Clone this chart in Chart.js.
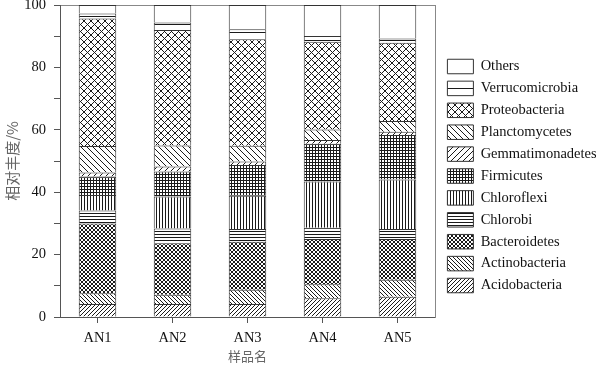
<!DOCTYPE html>
<html>
<head>
<meta charset="utf-8">
<script src="https://cdn.jsdelivr.net/npm/chart.js@4.4.1/dist/chart.umd.min.js"></script>
<style>
  html, body { margin: 0; padding: 0; background: #fff; }
  canvas { display: block; }
</style>
</head>
<body>
<canvas id="chart" width="596" height="365"></canvas>
<script>
// ── Data (relative abundance, %) ───────────────────────────────────────────
const samples = ['AN1', 'AN2', 'AN3', 'AN4', 'AN5'];

const acidobacteria    = [4.2, 4.2, 4.2, 6.0, 6.5];
const actinobacteria   = [3.4, 2.9, 4.5, 4.5, 5.4];
const bacteroidetes    = [22.4, 16.5, 15.4, 14.5, 13.1];
const chlorobi         = [4.1, 4.8, 4.1, 3.6, 3.2];
const chloroflexi      = [5.0, 10.2, 10.7, 14.8, 15.9];
const firmicutes       = [5.9, 8.0, 9.8, 12.1, 14.2];
const gemmatimonadetes = [1.3, 1.6, 1.1, 1.2, 1.1];
const planctomycetes   = [8.5, 6.8, 5.1, 3.4, 3.4];
const proteobacteria   = [40.9, 37.0, 34.1, 28.1, 25.1];
const verrucomicrobia  = [1.6, 2.4, 3.2, 1.9, 1.4];
const others           = [2.7, 5.6, 7.8, 9.9, 10.7];

const yTicks = [0, 20, 40, 60, 80, 100];

// ── Hatch patterns (pixel tiles, so the lines stay crisp) ─────────────────
const _INK = '#1a1a1a';

function _tile(size, draw) {
  const c = document.createElement('canvas');
  c.width = c.height = size;
  const g = c.getContext('2d');
  g.fillStyle = '#fff';
  g.fillRect(0, 0, size, size);
  g.fillStyle = _INK;
  draw(g, size);
  return g.createPattern(c, 'repeat');
}

const _h    = (g, s) => g.fillRect(0, 0, s, 1);
const _v    = (g, s) => g.fillRect(0, 0, 1, s);
const _fwd  = (g, s) => { for (let i = 0; i < s; i++) g.fillRect(i, s - 1 - i, 1, 1); };
const _back = (g, s) => { for (let i = 0; i < s; i++) g.fillRect(i, i, 1, 1); };

const PAT = {
  blank:     '#fff',
  hWide:     _tile(8, _h),
  cross:     _tile(7, (g, s) => { _fwd(g, s); _back(g, s); }),
  backWide:  _tile(6, _back),
  fwdWide:   _tile(6, _fwd),
  grid:      _tile(3, (g, s) => { _h(g, s); _v(g, s); }),
  vDense:    _tile(3, _v),
  hDense:    _tile(3, _h),
  crossFine: _tile(4, (g, s) => { _fwd(g, s); _back(g, s); }),
  backDense: _tile(4, _back),
  fwdDense:  _tile(4, _fwd),
};

// bottom of the stack first
const series = [
  ['Acidobacteria',    acidobacteria,    PAT.fwdDense],
  ['Actinobacteria',   actinobacteria,   PAT.backDense],
  ['Bacteroidetes',    bacteroidetes,    PAT.crossFine],
  ['Chlorobi',         chlorobi,         PAT.hDense],
  ['Chloroflexi',      chloroflexi,      PAT.vDense],
  ['Firmicutes',       firmicutes,       PAT.grid],
  ['Gemmatimonadetes', gemmatimonadetes, PAT.fwdWide],
  ['Planctomycetes',   planctomycetes,   PAT.backWide],
  ['Proteobacteria',   proteobacteria,   PAT.cross],
  ['Verrucomicrobia',  verrucomicrobia,  PAT.hWide],
  ['Others',           others,           PAT.blank],
];

// ── Chart ──────────────────────────────────────────────────────────────────
const _SERIF = '"Liberation Serif", "Times New Roman", serif';
const _CJK   = '"Noto Sans CJK SC", sans-serif';
const _AXIS  = '#555';

// small nudge so the legend column sits where the original puts it
const legendNudge = {
  id: 'legendNudge',
  afterLayout(chart, args, opts) {
    const lg = chart.legend;
    if (!lg) return;
    lg.left += opts.dx; lg.right += opts.dx;
    lg.top += opts.dy;  lg.bottom += opts.dy;
  },
};

const _noPad = s => { s.paddingTop = s.paddingBottom = s.paddingLeft = s.paddingRight = 0; };

new Chart(document.getElementById('chart'), {
  type: 'bar',
  data: {
    labels: samples,
    datasets: series.map(([label, data, fill]) => ({
      label,
      data,
      backgroundColor: fill,
      borderColor: '#333',
      borderWidth: 1,
      barPercentage: 0.5,
      categoryPercentage: 1,
    })),
  },
  plugins: [legendNudge],
  options: {
    responsive: false,
    animation: false,
    layout: { padding: { top: 5, left: 0, right: 0, bottom: 0 } },
    plugins: {
      tooltip: { enabled: false },
      legendNudge: { dx: 5, dy: -9 },
      legend: {
        position: 'right',
        reverse: true,
        maxWidth: 161,
        labels: {
          boxWidth: 26,
          boxHeight: 14.5,
          padding: 7.4,
          color: '#111',
          font: { family: _SERIF, size: 14.5 },
        },
      },
    },
    scales: {
      x: {
        stacked: true,
        grid: { offset: false, drawOnChartArea: false, tickLength: 6, color: _AXIS },
        border: { color: _AXIS, width: 1 },
        ticks: { color: '#111', padding: 6, font: { family: _SERIF, size: 14.5 } },
        title: {
          display: true, text: '样品名', color: '#666',
          font: { family: _CJK, size: 13 }, padding: { top: 0, bottom: 1 },
        },
        afterFit: s => { s.height = 48; _noPad(s); },
      },
      x2: {
        position: 'top',
        grid: { display: false },
        ticks: { display: false },
        border: { color: '#888', width: 1 },
        afterFit: s => { s.height = 0; _noPad(s); },
      },
      y: {
        stacked: true,
        min: 0,
        max: 100,
        afterBuildTicks: s => {
          const ticks = [];
          for (let v = 0; v <= 100; v += 10) ticks.push({ value: v });
          s.ticks = ticks;
        },
        ticks: {
          color: '#111',
          padding: 8,
          font: { family: _SERIF, size: 14.5 },
          callback: v => (yTicks.includes(v) ? v : ''),
        },
        grid: { drawOnChartArea: false, tickLength: 6, color: _AXIS },
        border: { color: _AXIS, width: 1 },
        title: {
          display: true, text: '相对丰度/%', color: '#666',
          font: { family: _CJK, size: 15 }, padding: { top: 3, bottom: 0 },
        },
        afterFit: s => { s.width = 60; _noPad(s); },
      },
      y2: {
        position: 'right',
        min: 0,
        max: 100,
        grid: { display: false },
        ticks: { display: false },
        border: { color: '#888', width: 1 },
        afterFit: s => { s.width = 0; _noPad(s); },
      },
    },
  },
});
</script>
</body>
</html>
